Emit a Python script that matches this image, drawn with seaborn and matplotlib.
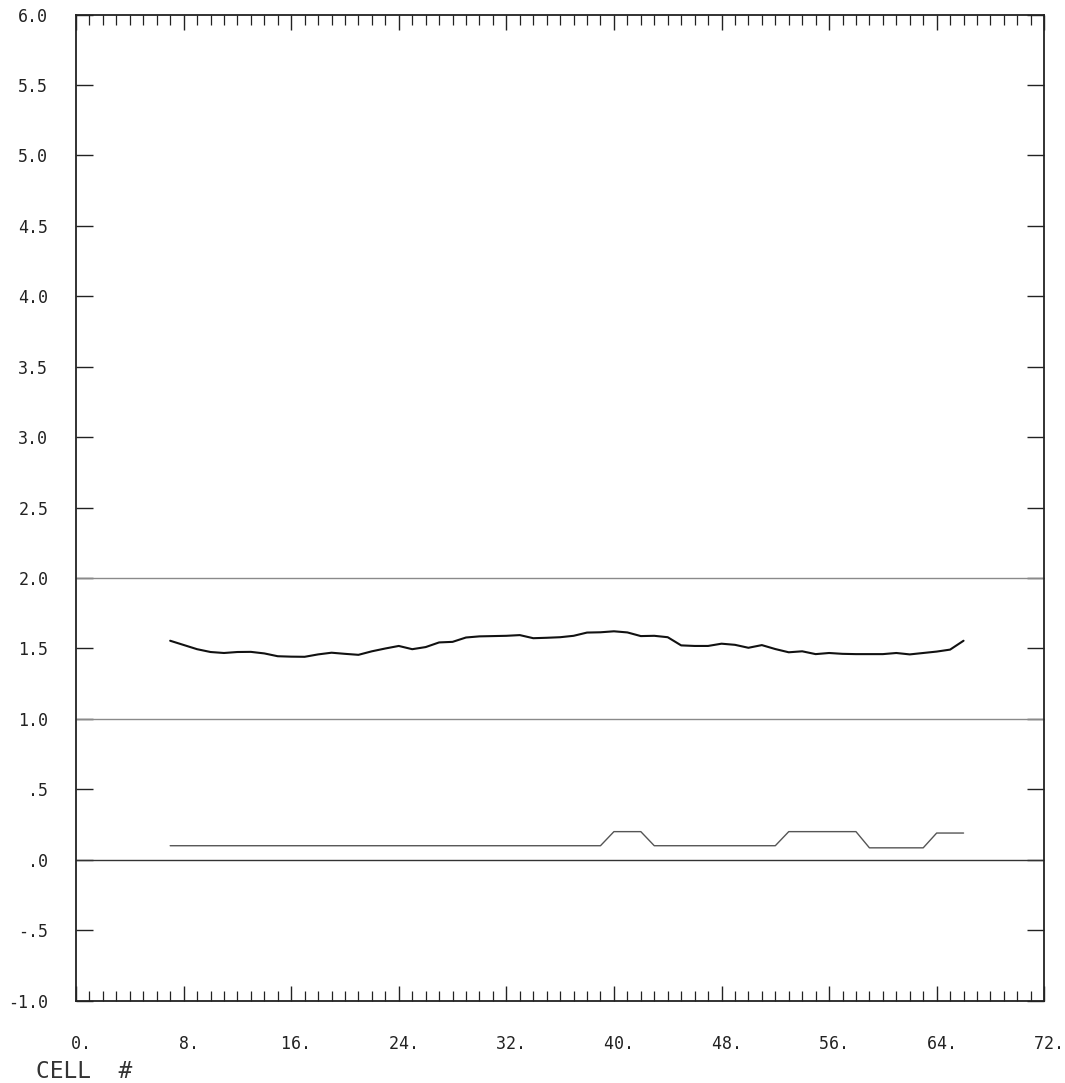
import matplotlib
matplotlib.use("Agg")
import matplotlib.pyplot as plt
from matplotlib.ticker import FixedLocator, MultipleLocator
import pandas as pd
import seaborn as sns

# ---------------- data ----------------
cells = list(range(7, 67))
upper_values = [
    1.555, 1.525, 1.495, 1.475, 1.468, 1.475, 1.476, 1.465, 1.445, 1.442,
    1.441, 1.458, 1.470, 1.462, 1.455, 1.480, 1.500, 1.518, 1.495, 1.510,
    1.543, 1.547, 1.578, 1.586, 1.588, 1.590, 1.595, 1.573, 1.576, 1.580,
    1.590, 1.613, 1.615, 1.622, 1.614, 1.588, 1.590, 1.580, 1.522, 1.518,
    1.518, 1.534, 1.526, 1.505, 1.524, 1.496, 1.473, 1.480, 1.460, 1.468,
    1.462, 1.460, 1.460, 1.460, 1.468, 1.458, 1.468, 1.478, 1.492, 1.555,
]
lower_values = [
    0.10, 0.10, 0.10, 0.10, 0.10, 0.10, 0.10, 0.10, 0.10, 0.10,
    0.10, 0.10, 0.10, 0.10, 0.10, 0.10, 0.10, 0.10, 0.10, 0.10,
    0.10, 0.10, 0.10, 0.10, 0.10, 0.10, 0.10, 0.10, 0.10, 0.10,
    0.10, 0.10, 0.10, 0.20, 0.20, 0.20, 0.10, 0.10, 0.10, 0.10,
    0.10, 0.10, 0.10, 0.10, 0.10, 0.10, 0.20, 0.20, 0.20, 0.20,
    0.20, 0.20, 0.085, 0.085, 0.085, 0.085, 0.085, 0.19, 0.19, 0.19,
]
reference_levels = [2.0, 1.0, 0.0]
reference_colors = ["#8a8a8a", "#8a8a8a", "#333333"]

x_ticks = [0, 8, 16, 24, 32, 40, 48, 56, 64, 72]
x_tick_labels = ["0.", "8.", "16.", "24.", "32.", "40.", "48.", "56.", "64.", "72."]
y_ticks = [6.0, 5.5, 5.0, 4.5, 4.0, 3.5, 3.0, 2.5, 2.0, 1.5, 1.0, 0.5, 0.0, -0.5, -1.0]
y_tick_labels = ["6.0", "5.5", "5.0", "4.5", "4.0", "3.5", "3.0", "2.5", "2.0",
                 "1.5", "1.0", ".5", ".0", "-.5", "-1.0"]
x_label = "CELL  #"

df = pd.DataFrame({"cell": cells, "upper": upper_values, "lower": lower_values})

# ---------------- figure ----------------
sns.set_theme(style="white")
plt.rcParams["font.family"] = ["DejaVu Sans Mono", "DejaVu Sans"]

fig = plt.figure(figsize=(10.65, 10.83), dpi=100)
ax = fig.add_axes([0.0714, 0.0760, 0.9091, 0.9106])

for level, col in zip(reference_levels, reference_colors):
    ax.axhline(level, color=col, lw=1.0, zorder=1)

sns.lineplot(data=df, x="cell", y="lower", ax=ax, color="#555555", lw=1.0,
             estimator=None, zorder=2)
sns.lineplot(data=df, x="cell", y="upper", ax=ax, color="#111111", lw=1.5,
             estimator=None, zorder=3)

ax.set_xlim(0, 72)
ax.set_ylim(-1.0, 6.0)
ax.set_xlabel("")
ax.set_ylabel("")

ax.xaxis.set_major_locator(FixedLocator(x_ticks))
ax.xaxis.set_minor_locator(MultipleLocator(1))
ax.set_xticklabels([" " + t for t in x_tick_labels])
ax.yaxis.set_major_locator(FixedLocator(y_ticks))
ax.set_yticklabels(y_tick_labels)

ax.tick_params(axis="x", which="major", direction="in", top=True, bottom=True,
               length=10.8, width=1.0, color="#222222", pad=25,
               labelsize=12, labelcolor="#222222")
ax.tick_params(axis="x", which="minor", direction="in", top=True, bottom=True,
               length=7.2, width=0.9, color="#222222")
ax.tick_params(axis="y", which="major", direction="in", left=True, right=True,
               length=12, width=1.0, color="#222222", pad=20,
               labelsize=12, labelcolor="#222222")

for sp in ax.spines.values():
    sp.set_visible(True)
    sp.set_color("#222222")
    sp.set_linewidth(1.3)

fig.text(0.0338, 0.0102, x_label, ha="left", va="center", fontsize=16.5,
         color="#333333")

fig.savefig("out.png", dpi=100, facecolor="white")
